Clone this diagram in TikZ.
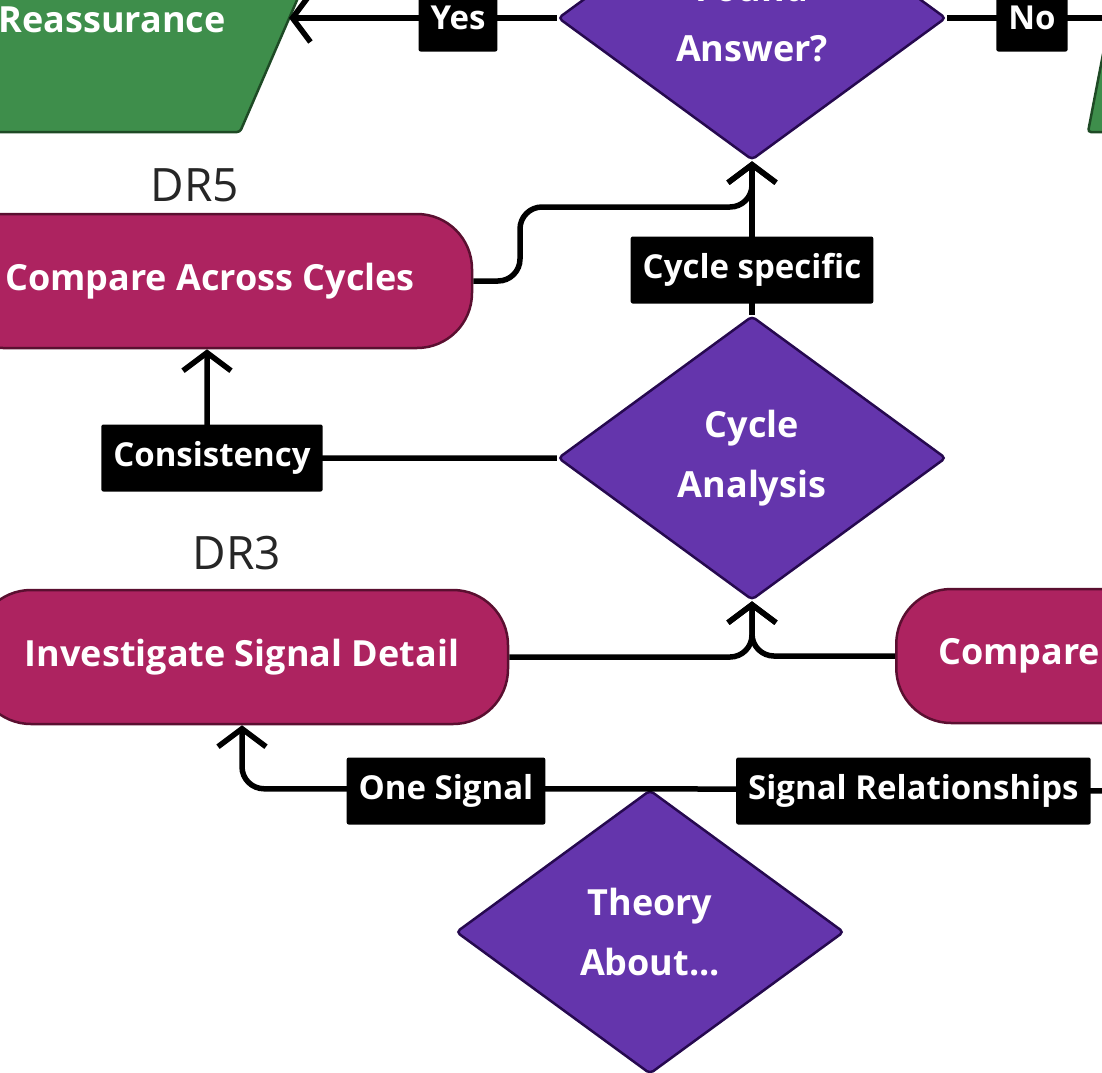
\documentclass[tikz,border=0pt]{standalone}
\usepackage{fontspec}
\setmainfont{Open Sans}
\usetikzlibrary{arrows.meta,shapes.geometric}
\definecolor{purp}{HTML}{6435AC}
\definecolor{purpd}{HTML}{26094F}
\definecolor{pink}{HTML}{AD2360}
\definecolor{pinkd}{HTML}{5A0F30}
\definecolor{grn}{HTML}{3E8E4B}
\definecolor{grnd}{HTML}{1E4A25}
\begin{document}
\begin{tikzpicture}[x=1pt,y=-1pt,
  dec/.style={diamond,draw=purpd,line width=2.5pt,fill=purp,minimum width=388pt,minimum height=284pt,inner sep=0pt,text=white,font=\fontsize{36}{60}\selectfont\bfseries,align=center,rounded corners=4pt},
  proc/.style={rectangle,draw=pinkd,line width=2.5pt,fill=pink,rounded corners=55pt,minimum height=134pt,text=white,font=\fontsize{36}{40}\selectfont\bfseries},
  lab/.style={fill=black,text=white,rounded corners=2pt,minimum height=67pt,inner xsep=12pt,font=\fontsize{33}{38}\selectfont\bfseries},
  dr/.style={text=black!85,font=\fontsize{46}{50}\selectfont},
  con/.style={line width=5.5pt,rounded corners=22pt},
  arr/.style={con,-{Straight Barb[length=18pt,width=48pt,line width=5.5pt]}}]
\useasboundingbox (0,0) rectangle (1102,1072);
\begin{scope}
\clip (0,0) rectangle (1102,1072);
% green shapes
\draw[fill=grn,draw=grnd,line width=2.5pt,rounded corners=3pt] (-100,-60) -- (323,-60) -- (240,132) -- (-100,132) -- cycle;
\node[text=white,font=\fontsize{36}{40}\selectfont\bfseries] (re) at (112,20) {Reassurance};
\coordinate (reE) at (289,18);
\draw[fill=grn,draw=grnd,line width=2.5pt,rounded corners=3pt] (1125,-60) -- (1088,132) -- (1300,132) -- (1300,-60) -- cycle;
% diamonds
\node[dec] (fa) at (752,18) {Found\\Answer?};
\node[dec] (ca) at (752,458) {Cycle\\Analysis};
\node[dec] (ta) at (650,932) {Theory\\About...};
% process nodes
\node[proc,minimum width=524pt] (cac) at (210,281) {Compare Across Cycles};
\node[dr] at (195,185) {DR5};
\node[proc,minimum width=532pt] (isd) at (242,657) {Investigate Signal Detail};
\node[dr] at (237,553) {DR3};
\node[proc,minimum width=500pt,anchor=west,text width=460pt,align=left,inner xsep=42pt] (cmp) at (895,656) {Compare};
% connectors
\draw[arr,rounded corners=0pt] (fa.west) -- (reE);
\node[lab] at (458,18) {Yes};
\draw[con] (fa.east) -- (1110,18);
\node[lab] at (1032,18) {No};
\coordinate (j1) at (520,207);
\draw[arr] (cac.east) -| (j1) -| (fa.south);
\draw[arr] (ca.north) -- (fa.south);
\node[lab] at (752,270) {Cycle specific};
\draw[arr] (ca.west) -| (cac.south -| 207,0);
\node[lab] at (212,458) {Consistency};
\draw[arr] (isd.east) -| (ca.south);
\draw[arr] (cmp.west) -| (ca.south);
\draw[arr] (ta.north) -| (isd.south -| 242,0);
\node[lab] at (446,791) {One Signal};
\draw[con] (ta.north) -- (1110,791);
\node[lab,anchor=west] at (736,791) {Signal Relationships};
\end{scope}
\end{tikzpicture}
\end{document}
